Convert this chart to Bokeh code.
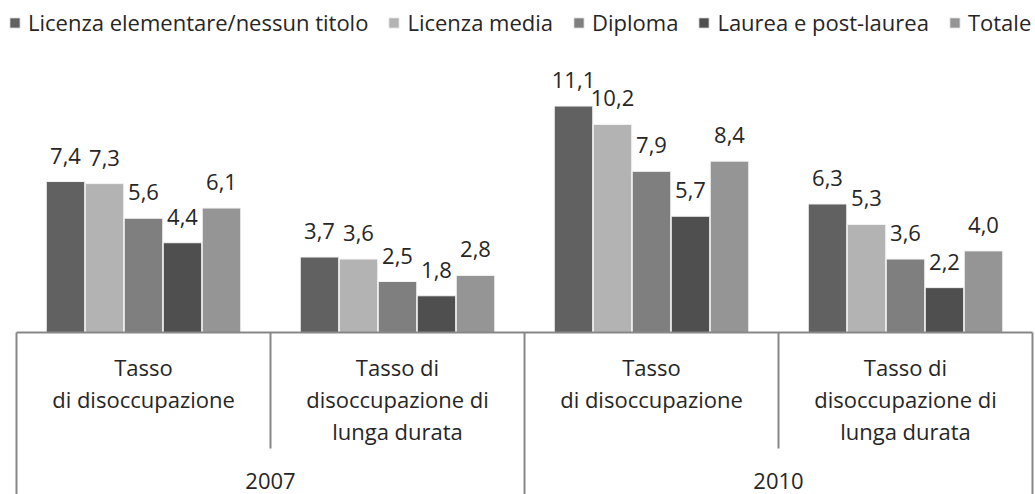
from bokeh.plotting import figure
from bokeh.models import ColumnDataSource, Range1d, Legend, LegendItem
from bokeh.core.properties import value
from bokeh.embed import file_html
from bokeh.resources import INLINE

# ---------------- data ----------------
categories = ["Tasso\ndi disoccupazione",
              "Tasso di\ndisoccupazione di\nlunga durata",
              "Tasso\ndi disoccupazione",
              "Tasso di\ndisoccupazione di\nlunga durata"]
years = ["2007", "2010"]
series_names = ["Licenza elementare/nessun titolo", "Licenza media", "Diploma",
                "Laurea e post-laurea", "Totale"]
licenza_elementare = [7.4, 3.7, 11.1, 6.3]
licenza_media = [7.3, 3.6, 10.2, 5.3]
diploma = [5.6, 2.5, 7.9, 3.6]
laurea = [4.4, 1.8, 5.7, 2.2]
totale = [6.1, 2.8, 8.4, 4.0]
series_values = [licenza_elementare, licenza_media, diploma, laurea, totale]
series_colors = ["#616161", "#b3b3b3", "#7f7f7f", "#4f4f4f", "#959595"]

# ---------------- layout ----------------
W, H = 1035, 494
GROUP_PX = 254            # pixel width of one category
LEFT_PX = 16              # left edge of the category axis
PPU = 20.4                # pixels per unit on y
BASE_PX = 332             # baseline distance from top of plot
X0 = -LEFT_PX / GROUP_PX
X1 = X0 + W / GROUP_PX
Y1 = BASE_PX / PPU
Y0 = -(H - BASE_PX) / PPU
PITCH = 39 / GROUP_PX
BAR_W = 38.5 / GROUP_PX
FONT = "Open Sans"
FS = "22px"
TXT = "#262626"
AX = "#878787"
SHIFT = 8                 # compensation of text baseline placement

p = figure(width=W, height=H, x_range=Range1d(X0, X1), y_range=Range1d(Y0, Y1),
           output_backend="svg", toolbar_location=None, min_border=0,
           x_axis_location=None, y_axis_location=None)
p.grid.visible = False
p.outline_line_color = None
p.background_fill_color = "white"

n = len(categories)
items = []
for k, (name, vals, col) in enumerate(zip(series_names, series_values, series_colors)):
    xs = [i + 0.5 + (k - 2) * PITCH for i in range(n)]
    src = ColumnDataSource(dict(x=xs, top=vals,
                                lab=[f"{v:.1f}".replace(".", ",") for v in vals]))
    r = p.vbar(x="x", top="top", bottom=0, width=BAR_W, source=src,
               fill_color=col, line_color="#f4f4f4", line_width=1)
    p.text(x="x", y="top", text="lab", source=src, text_align="center",
           text_baseline="alphabetic", y_offset=-18 - SHIFT,
           text_font=value(FONT), text_font_size=FS, text_color=TXT)
    items.append(LegendItem(label=name, renderers=[r]))

# category axis lines
p.segment(x0=[0], y0=[0], x1=[n], y1=[0], line_color=AX, line_width=2)
long_x = [0, n // 2, n]
p.segment(x0=long_x, y0=[0] * 3, x1=long_x, y1=[Y0] * 3, line_color=AX, line_width=2)
short_x = [1, 3]
p.segment(x0=short_x, y0=[0] * 2, x1=short_x, y1=[-116 / PPU] * 2,
          line_color=AX, line_width=2)

# category labels (one row per line)
cx, ct, co = [], [], []
for i, lab in enumerate(categories):
    for j, line in enumerate(lab.split("\n")):
        cx.append(i + 0.5)
        ct.append(line)
        co.append(42 + 32 * j - SHIFT)
p.text(x="x", y=0, text="t", y_offset="o",
       source=ColumnDataSource(dict(x=cx, t=ct, o=co)),
       text_align="center", text_baseline="alphabetic",
       text_font=value(FONT), text_font_size=FS, text_color=TXT)
p.text(x=[1, 3], y=[0, 0], text=years, y_offset=156 - SHIFT,
       text_align="center", text_baseline="alphabetic",
       text_font=value(FONT), text_font_size=FS, text_color=TXT)

legend = Legend(items=items, orientation="horizontal", location=(8, 457),
                border_line_color=None, background_fill_alpha=0,
                padding=0, margin=0, spacing=19, glyph_width=13, glyph_height=13,
                label_standoff=7, label_text_font=FONT, label_text_font_size=FS,
                label_text_color=TXT)
p.add_layout(legend)

open("out.html", "w").write(file_html(p, INLINE))
